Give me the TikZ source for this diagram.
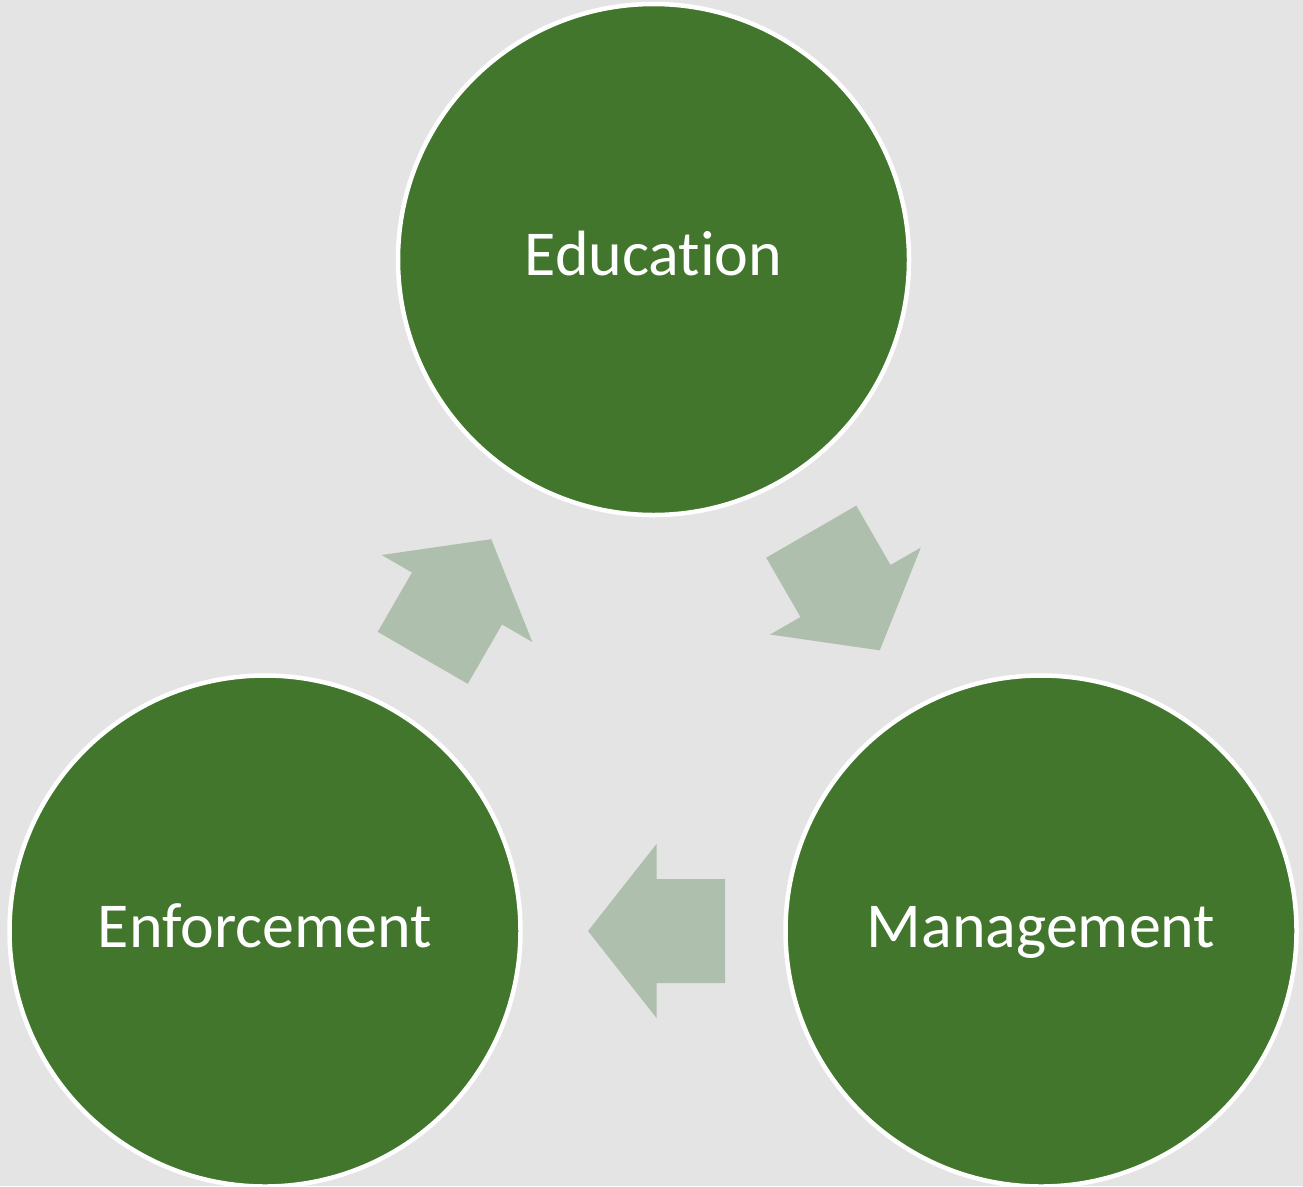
\documentclass[tikz,border=0pt]{standalone}
\usepackage{fontspec}
\setmainfont[Ligatures=NoCommon]{Carlito}
\definecolor{bggray}{HTML}{E4E4E4}
\definecolor{leaf}{HTML}{41762C}
\definecolor{sage}{HTML}{AFBFAD}
\tikzset{
  bubble/.style={circle, draw=white, line width=4.5pt, fill=leaf, minimum size=511pt,
    inner sep=0pt, text=white, font=\fontsize{64}{72}\selectfont,
    text height=48pt, text depth=16pt},
  blockarrow/.style={fill=sage, draw=none}
}
\newcommand{\myblockarrow}[2]{%
  \begin{scope}[shift={#1}, rotate=#2]
    \fill[blockarrow] (-68.5,-52) -- (0,-52) -- (0,-87) -- (68.5,0) -- (0,87) -- (0,52) -- (-68.5,52) -- cycle;
  \end{scope}}
\begin{document}
\begin{tikzpicture}[x=1pt,y=-1pt]
  \fill[bggray] (0,0) rectangle (1303,1186);
  \useasboundingbox (0,0) rectangle (1303,1186);
  \node[bubble] (edu) at (653.5,259.5) {Education};
  \node[bubble] (enf) at (265,931) {Enforcement};
  \node[bubble] (man) at (1041,931) {Management};
  \myblockarrow{(656.5,931)}{180}
  \myblockarrow{(457,598.5)}{60}
  \myblockarrow{(845.5,591)}{-60}
\end{tikzpicture}
\end{document}
